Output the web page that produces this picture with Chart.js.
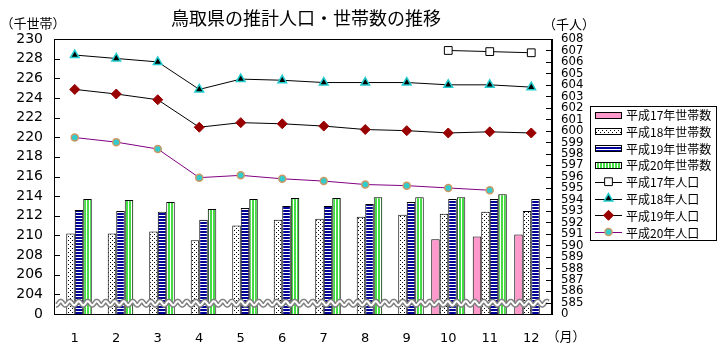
<!DOCTYPE html>
<html lang="ja">
<head>
<meta charset="utf-8">
<title>鳥取県の推計人口・世帯数の推移</title>
<script src="https://cdn.jsdelivr.net/npm/chart.js@4.4.1/dist/chart.umd.min.js"></script>
<style>
  html, body { margin: 0; padding: 0; background: #fff; }
  #wrap { width: 723px; height: 350px; }
</style>
</head>
<body>
<div id="wrap"><canvas id="chart" width="723" height="350"></canvas></div>
<script>
// ————— data —————
const months = ['1', '2', '3', '4', '5', '6', '7', '8', '9', '10', '11', '12'];

// 世帯数 (千世帯)
const hh17 = [null, null, null, null, null, null, null, null, null, 209.6, 209.9, 210.1];
const hh18 = [210.2, 210.2, 210.4, 209.5, 211.0, 211.6, 211.7, 211.9, 212.1, 212.2, 212.4, 212.5];
const hh19 = [212.6, 212.5, 212.4, 211.6, 212.8, 213.0, 213.0, 213.2, 213.4, 213.7, 213.7, 213.7];
const hh20 = [213.7, 213.6, 213.4, 212.7, 213.7, 213.8, 213.8, 213.9, 213.9, 213.9, 214.2, null];

// 人口 (千人)
const pop17 = [null, null, null, null, null, null, null, null, null, 607.0, 606.9, 606.8];
const pop18 = [606.6, 606.3, 606.0, 603.6, 604.5, 604.4, 604.2, 604.2, 604.2, 604.0, 604.0, 603.8];
const pop19 = [603.6, 603.2, 602.7, 600.3, 600.7, 600.6, 600.4, 600.1, 600.0, 599.8, 599.9, 599.8];
const pop20 = [599.4, 599.0, 598.4, 595.9, 596.1, 595.8, 595.6, 595.3, 595.2, 595.0, 594.8, null];

const seriesNames = ['平成17年世帯数', '平成18年世帯数', '平成19年世帯数', '平成20年世帯数',
                     '平成17年人口', '平成18年人口', '平成19年人口', '平成20年人口'];

// axis ranges (bottom tick is shown as "0", the axis is broken there)
const hhMin = 202, hhMax = 230, hhStep = 2;
const popMin = 584, popMax = 608, popStep = 1;

// ————— fill patterns —————
function makePattern(w, h, paint) {
  const c = document.createElement('canvas');
  c.width = w; c.height = h;
  const g = c.getContext('2d');
  paint(g);
  return g.createPattern(c, 'repeat');
}
const dotPattern = makePattern(4, 4, g => {
  g.fillStyle = '#fff'; g.fillRect(0, 0, 4, 4);
  g.fillStyle = '#000'; g.fillRect(0, 0, 1, 1); g.fillRect(2, 2, 1, 1);
});
const hStripe = makePattern(1, 3, g => {
  g.fillStyle = '#fff'; g.fillRect(0, 0, 1, 3);
  g.fillStyle = '#000099'; g.fillRect(0, 0, 1, 2);
});
const vStripe = makePattern(3, 1, g => {
  g.fillStyle = '#fff'; g.fillRect(0, 0, 3, 1);
  g.fillStyle = '#44dd44'; g.fillRect(0, 0, 2, 1);
});

const barBase = { type: 'bar', yAxisID: 'y', borderColor: '#000', borderWidth: 1, order: 2,
                  categoryPercentage: 0.82, barPercentage: 1.0 };
const lineBase = { type: 'line', yAxisID: 'y1', borderWidth: 1, order: 1, tension: 0,
                   pointBorderWidth: 1, spanGaps: false };

const datasets = [
  { ...barBase, label: seriesNames[0], data: hh17, backgroundColor: '#ff99cc' },
  { ...barBase, label: seriesNames[1], data: hh18, backgroundColor: dotPattern },
  { ...barBase, label: seriesNames[2], data: hh19, backgroundColor: hStripe },
  { ...barBase, label: seriesNames[3], data: hh20, backgroundColor: vStripe },
  { ...lineBase, label: seriesNames[4], data: pop17, borderColor: '#000',
    pointStyle: 'rect', pointRadius: 5.5, pointBackgroundColor: '#fff', pointBorderColor: '#000' },
  { ...lineBase, label: seriesNames[5], data: pop18, borderColor: '#000',
    pointStyle: 'triangle', pointRadius: 5, pointBackgroundColor: '#000', pointBorderColor: '#22cccc', pointBorderWidth: 1.5 },
  { ...lineBase, label: seriesNames[6], data: pop19, borderColor: '#000',
    pointStyle: 'rectRot', pointRadius: 5, pointBackgroundColor: '#990000', pointBorderColor: '#990000' },
  { ...lineBase, label: seriesNames[7], data: pop20, borderColor: '#800080',
    pointStyle: 'circle', pointRadius: 3.5, pointBackgroundColor: '#33cccc', pointBorderColor: '#cc9966', pointBorderWidth: 1.5 }
];

const JP = '"Noto Sans CJK JP", sans-serif';

// ————— extra drawing: axis break, frame, inner ticks, texts, legend —————
const decor = {
  id: 'decor',
  afterDatasetsDraw(chart) {
    const { ctx, chartArea: a, scales } = chart;
    // wavy break line
    const yMid = scales.y.getPixelForValue(203.1);
    ctx.save();
    ctx.beginPath();
    for (let x = a.left + 2; x <= a.right - 4; x += 0.5) {
      const y = yMid + 2 * Math.sin((x - a.left) / 9 * 2 * Math.PI);
      if (x === a.left + 2) ctx.moveTo(x, y); else ctx.lineTo(x, y);
    }
    ctx.strokeStyle = '#808080'; ctx.lineWidth = 5; ctx.stroke();
    ctx.strokeStyle = '#fff'; ctx.lineWidth = 2; ctx.stroke();
    ctx.restore();
  },
  afterDraw(chart) {
    const { ctx, chartArea: a, scales } = chart;
    ctx.save();
    // plot frame
    ctx.strokeStyle = '#000'; ctx.lineWidth = 1;
    ctx.strokeRect(Math.round(a.left) + 0.5, Math.round(a.top) + 0.5,
                   Math.round(a.right - a.left) - 1, Math.round(a.bottom - a.top));
    // tick marks pointing inside
    ctx.beginPath();
    scales.y.ticks.forEach(t => {
      const p = Math.round(scales.y.getPixelForValue(t.value)) + 0.5;
      ctx.moveTo(a.left, p); ctx.lineTo(a.left + 6, p);
    });
    scales.y1.ticks.forEach(t => {
      const p = Math.round(scales.y1.getPixelForValue(t.value)) + 0.5;
      ctx.moveTo(a.right - 6, p); ctx.lineTo(a.right, p);
    });
    ctx.stroke();

    // texts
    ctx.fillStyle = '#000';
    ctx.textBaseline = 'middle';
    ctx.textAlign = 'center';
    ctx.font = '18px ' + JP;
    ctx.fillText('鳥取県の推計人口・世帯数の推移', 306, 18);
    ctx.font = '13px ' + JP;
    ctx.fillText('（千世帯）', 33, 23);
    ctx.fillText('（千人）', 569, 24);
    ctx.fillText('（月）', 566, 336);

    // legend
    const lx = 590, ly = 106, lw = 126, lh = 134;
    ctx.strokeRect(lx + 0.5, ly + 0.5, lw, lh);
    ctx.font = '12px ' + JP;
    ctx.textAlign = 'left';
    chart.data.datasets.forEach((ds, i) => {
      const cy = 114.5 + i * 16.8;
      if (ds.type === 'bar') {
        ctx.fillStyle = ds.backgroundColor;
        ctx.fillRect(595, Math.round(cy) - 3, 27, 7);
        ctx.strokeStyle = '#000'; ctx.lineWidth = 1;
        ctx.strokeRect(595.5, Math.round(cy) - 3 + 0.5, 26, 6);
      } else {
        ctx.strokeStyle = ds.borderColor; ctx.lineWidth = 1;
        ctx.beginPath();
        ctx.moveTo(595, Math.round(cy) + 0.5); ctx.lineTo(622, Math.round(cy) + 0.5);
        ctx.stroke();
        ctx.fillStyle = ds.pointBackgroundColor;
        ctx.strokeStyle = ds.pointBorderColor;
        ctx.lineWidth = ds.pointBorderWidth;
        Chart.helpers.drawPoint(ctx, { pointStyle: ds.pointStyle, radius: ds.pointRadius,
                                       borderWidth: ds.pointBorderWidth, rotation: 0 }, 608.5, cy);
      }
      ctx.fillStyle = '#000';
      ctx.fillText(ds.label, 626, cy + 1);
    });
    ctx.restore();
  }
};

new Chart(document.getElementById('chart'), {
  data: { labels: months, datasets },
  options: {
    responsive: false,
    animation: false,
    devicePixelRatio: 1,
    layout: { padding: { top: 39, left: 0, right: 0, bottom: 0 } },
    plugins: { legend: { display: false }, title: { display: false }, tooltip: { enabled: false } },
    scales: {
      x: {
        grid: { display: false, drawTicks: false },
        border: { display: true, color: '#000' },
        ticks: { color: '#000', font: { family: 'DejaVu Sans', size: 13 }, padding: 17 },
        afterFit(s) { s.height = 36; }
      },
      y: {
        position: 'left', min: hhMin, max: hhMax,
        grid: { display: false, drawTicks: false },
        border: { display: true, color: '#000' },
        ticks: { stepSize: hhStep, autoSkip: false, color: '#000', padding: 11,
                 font: { family: 'DejaVu Sans', size: 14 },
                 callback: v => (v === hhMin ? '0' : v) },
        afterFit(s) { s.width = 54; }
      },
      y1: {
        position: 'right', min: popMin, max: popMax,
        grid: { display: false, drawTicks: false },
        border: { display: true, color: '#000' },
        ticks: { stepSize: popStep, autoSkip: false, color: '#000', padding: 9,
                 font: { family: '"Liberation Sans Narrow", "DejaVu Sans Condensed", sans-serif', size: 13 },
                 callback: v => (v === popMin ? '0' : v) },
        afterFit(s) { s.width = 171; }
      }
    }
  },
  plugins: [decor]
});
</script>
</body>
</html>
